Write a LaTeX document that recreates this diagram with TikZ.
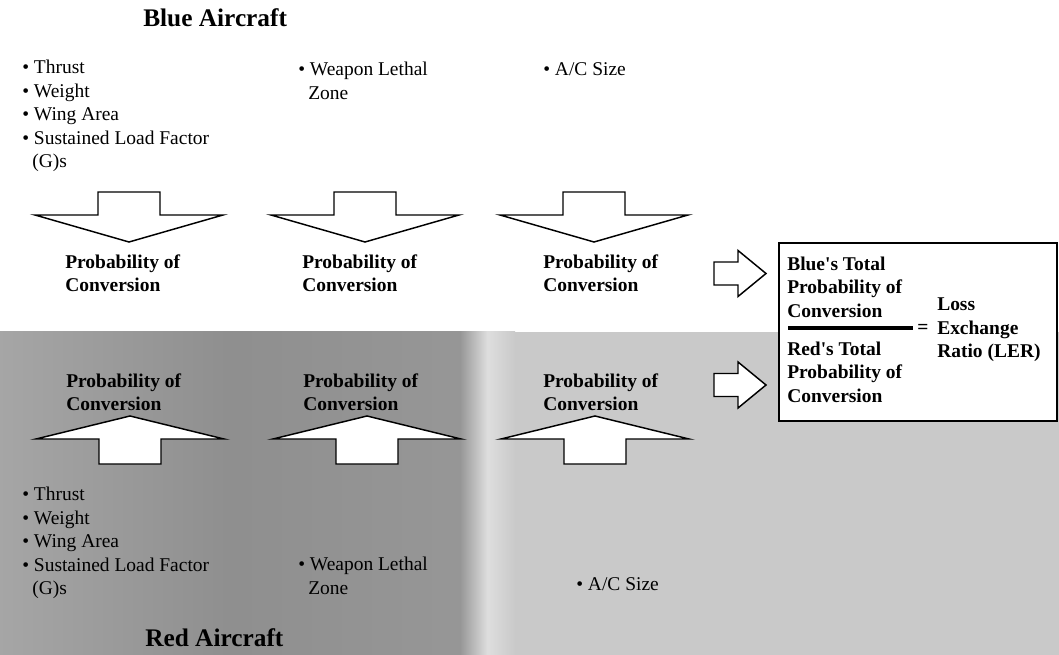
\documentclass[tikz,border=0pt]{standalone}
\usepackage{fontspec}
\setmainfont{Liberation Serif}
\begin{document}
\begin{tikzpicture}[x=0.75pt,y=-0.75pt,
  txt/.style={anchor=west, inner sep=0pt, align=left, font=\fontsize{14.6}{17.6}\selectfont},
  lab/.style={anchor=west, inner sep=0pt, align=left, font=\bfseries\fontsize{14.6}{17.6}\selectfont},
  ttl/.style={anchor=west, inner sep=0pt, font=\bfseries\fontsize{19}{22}\selectfont},
  blk/.style={draw=black, fill=white, line width=1.1pt, line join=miter},
  downarr/.pic={\draw[blk] (-31,0) -- (31,0) -- (31,23) -- (94,23) -- (0,50) -- (-94,23) -- (-31,23) -- cycle;},
  uparr/.pic={\draw[blk] (-31,0) -- (31,0) -- (31,-25) -- (94,-25) -- (0,-48) -- (-94,-25) -- (-31,-25) -- cycle;},
  rightarr/.pic={\draw[blk] (0,-11.5) -- (24,-11.5) -- (24,-23) -- (52,0) -- (24,23) -- (24,11.5) -- (0,11.5) -- cycle;}
]
\useasboundingbox (0,0) rectangle (1059,655);
\fill[white] (0,0) rectangle (1059,655);
% background shading
\fill[black!21] (500,332) rectangle (1059,655);
\shade[left color=black!35, right color=black!41, middle color=black!44] (0,332) rectangle (460,655);
\shade[left color=black!41, right color=black!21, middle color=black!13] (460,332) rectangle (515,655);

% Blue section
\node[ttl] (bluettl) at (143,18) {Blue Aircraft};
\node[txt] (blue1) at (22,116) {\textbullet\ Thrust\\\textbullet\ Weight\\\textbullet\ Wing Area\\\textbullet\ Sustained Load Factor\\\hphantom{\textbullet\,}(G)s};
\node[txt] (blue2) at (298,81) {\textbullet\ Weapon Lethal\\\hphantom{\textbullet\,}Zone};
\node[txt] (blue3) at (543,69) {\textbullet\ A/C Size};

\pic (bd1) at (129,192) {downarr};
\pic (bd2) at (365,192) {downarr};
\pic (bd3) at (594,192) {downarr};

\node[lab] (bl1) at (65,273) {Probability of\\Conversion};
\node[lab] (bl2) at (302,273) {Probability of\\Conversion};
\node[lab] (bl3) at (543,273) {Probability of\\Conversion};

% Red section
\node[lab] (rl1) at (66,392) {Probability of\\Conversion};
\node[lab] (rl2) at (303,392) {Probability of\\Conversion};
\node[lab] (rl3) at (543,392) {Probability of\\Conversion};

\pic (ru1) at (130,464) {uparr};
\pic (ru2) at (367,464) {uparr};
\pic (ru3) at (595,464) {uparr};

\node[txt] (red1) at (22,543) {\textbullet\ Thrust\\\textbullet\ Weight\\\textbullet\ Wing Area\\\textbullet\ Sustained Load Factor\\\hphantom{\textbullet\,}(G)s};
\node[txt] (red2) at (298,576) {\textbullet\ Weapon Lethal\\\hphantom{\textbullet\,}Zone};
\node[txt] (red3) at (576,584) {\textbullet\ A/C Size};
\node[ttl] (redttl) at (145,638) {Red Aircraft};

% right arrows
\pic (ra1) at (714,273.5) {rightarr};
\pic (ra2) at (714,385) {rightarr};

% result box
\draw[line width=1.1pt, fill=white] (779,243) rectangle (1057,421);
\node[lab] (bt) at (787,287) {Blue\textquotesingle s Total\\Probability of\\Conversion};
\node[lab] (rt) at (787,372) {Red\textquotesingle s Total\\Probability of\\Conversion};
\coordinate (rs) at (788,328);
\coordinate (re) at (913,328);
\draw[line width=2.6pt] (rs) -- (re);
\node[lab] (eq) at (917,329) {=};
\node[lab] (ler) at (937,330) {Loss\\Exchange\\Ratio (LER)};
\end{tikzpicture}
\end{document}
